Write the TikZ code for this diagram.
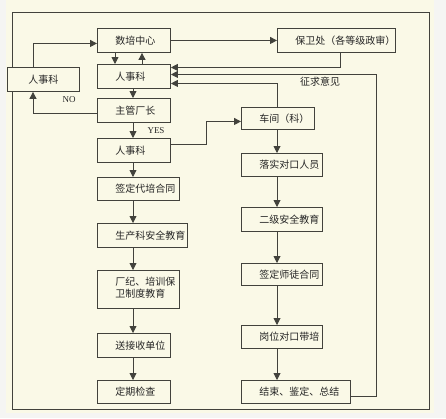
\documentclass[tikz,border=0pt]{standalone}
\usepackage{fontspec}
\setmainfont{Liberation Serif}
\newfontfamily\cjk{Noto Sans CJK SC}
\usetikzlibrary{arrows.meta,calc}
\definecolor{cream}{RGB}{250,249,231}
\definecolor{lncol}{RGB}{66,66,60}
\definecolor{outerbg}{RGB}{245,245,243}
\newcommand{\lbx}[2]{\makebox[#1][l]{\hspace{18pt}#2}}
\begin{document}
\begin{tikzpicture}[x=1pt,y=-1pt,
  box/.style={draw=lncol, fill=cream, line width=0.9pt, inner sep=0pt, anchor=north west,
    font=\cjk\fontsize{10pt}{12pt}\selectfont, text=black!85},
  arr/.style={draw=lncol, line width=0.9pt, -{Triangle[length=7pt,width=7pt]}},
  frame/.style={draw=lncol, line width=0.9pt},
  lbl/.style={font=\fontsize{9pt}{10pt}\selectfont, inner sep=0pt, text=black!85},
  clbl/.style={font=\cjk\fontsize{10pt}{12pt}\selectfont, inner sep=0pt, text=black!85}]
\useasboundingbox (0,0) rectangle (446,418);
\fill[outerbg] (0,0) rectangle (446,418);
\fill[cream] (6,0) rectangle (434,413);
\draw[frame] (12,12) rectangle (429,409);

% left column
\node[box, minimum width=73, minimum height=24] (sp) at (97,28) {\lbx{73pt}{数培中心}};
\node[box, minimum width=73, minimum height=24] (rs1) at (97,64) {\lbx{73pt}{人事科}};
\node[box, minimum width=73, minimum height=24] (zg) at (97,98) {\lbx{73pt}{主管厂长}};
\node[box, minimum width=73, minimum height=24] (rs2) at (97,138) {\lbx{73pt}{人事科}};
\node[box, minimum width=82, minimum height=23] (qd) at (97,177) {\lbx{82pt}{签定代培合同}};
\node[box, minimum width=90, minimum height=24] (sc) at (97,223) {\lbx{90pt}{生产科安全教育}};
\node[box, minimum width=82, minimum height=38] (cj) at (97,270)
  {\lbx{82pt}{\begin{tabular}{@{}l@{}}厂纪、培训保\\卫制度教育\end{tabular}}};
\node[box, minimum width=73, minimum height=24] (ss) at (97,333) {\lbx{73pt}{送接收单位}};
\node[box, minimum width=73, minimum height=23] (dq) at (97,380) {\lbx{73pt}{定期检查}};
\node[box, minimum width=72, minimum height=24] (rsl) at (7,67) {人事科};

% right column
\node[box, minimum width=118, minimum height=24] (bw) at (277,28) {\lbx{118pt}{保卫处（各等级政审）}};
\node[box, minimum width=73, minimum height=22] (chj) at (241,107) {\lbx{73pt}{车间（科）}};
\node[box, minimum width=81, minimum height=23] (ls) at (241,153) {\lbx{81pt}{落实对口人员}};
\node[box, minimum width=81, minimum height=24] (ej) at (241,207) {\lbx{81pt}{二级安全教育}};
\node[box, minimum width=81, minimum height=22] (qs) at (241,263) {\lbx{81pt}{签定师徒合同}};
\node[box, minimum width=81, minimum height=23] (gw) at (241,325) {\lbx{81pt}{岗位对口带培}};
\node[box, minimum width=109, minimum height=23] (js) at (241,380) {\lbx{109pt}{结束、鉴定、总结}};

% labels
\node[lbl] (yes) at (156,131) {YES};
\node[lbl] (no) at (69,100) {NO};
\node[clbl] (zq) at (320,82) {征求意见};

% connectors
\draw[arr] (sp.east) -- (bw.west);
\draw[arr] ($(bw.south)+(4,0)$) |- ($(rs1.east)+(0,-9)$);
\draw[arr] ($(js.east)+(0,4.5)$) -- ++(26,0) |- ($(rs1.east)+(0,-2)$);
\draw[arr] ($(chj.north)+(-0.5,0)$) |- ($(rs1.east)+(0,7)$);
\draw[arr] ($(sp.south west)+(18,0)$) -- ($(rs1.north west)+(18,0)$);
\draw[arr] ($(rs1.north west)+(45,0)$) -- ($(sp.south west)+(45,0)$);
\draw[arr] ($(rs1.south west)+(36,0)$) -- ($(zg.north west)+(36,0)$);
\draw[arr] ($(zg.south west)+(36,0)$) -- ($(rs2.north west)+(36,0)$);
\draw[arr] ($(zg.west)+(0,3)$) -| ($(rsl.south west)+(26,0)$);
\draw[arr] ($(rsl.north west)+(26,0)$) |- ($(sp.west)+(0,3)$);
\draw[arr] ($(rs2.north east)+(0,6)$) -- ++(36,0) |- ($(chj.west)+(0,3)$);
\draw[arr] ($(rs2.south west)+(36,0)$) -- ($(qd.north west)+(36,0)$);
\draw[arr] ($(qd.south west)+(36,0)$) -- ($(sc.north west)+(36,0)$);
\draw[arr] ($(sc.south west)+(36,0)$) -- ($(cj.north west)+(36,0)$);
\draw[arr] ($(cj.south west)+(36,0)$) -- ($(ss.north west)+(36,0)$);
\draw[arr] ($(ss.south west)+(36,0)$) -- ($(dq.north west)+(36,0)$);
\draw[arr] ($(chj.south west)+(36,0)$) -- ($(ls.north west)+(36,0)$);
\draw[arr] ($(ls.south west)+(36,0)$) -- ($(ej.north west)+(36,0)$);
\draw[arr] ($(ej.south west)+(36,0)$) -- ($(qs.north west)+(36,0)$);
\draw[arr] ($(qs.south west)+(36,0)$) -- ($(gw.north west)+(36,0)$);
\draw[arr] ($(gw.south west)+(36,0)$) -- ($(js.north west)+(36,0)$);
\end{tikzpicture}
\end{document}
